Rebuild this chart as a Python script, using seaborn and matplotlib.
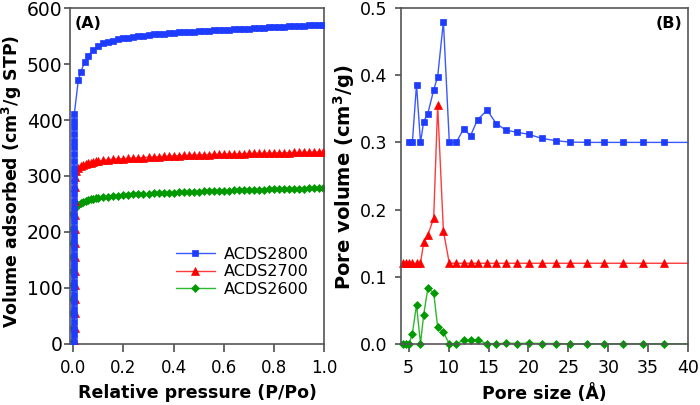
import numpy as np
import matplotlib
matplotlib.use("Agg")
import matplotlib.pyplot as plt
import seaborn as sns

# # # # # data # # # # #

LABELS = ["ACDS2800", "ACDS2700", "ACDS2600"]

# (A) N2 isotherms: relative pressure / volume adsorbed (cm3/g STP)
P_BLUE = [0.003, 0.003, 0.003, 0.003, 0.003, 0.003, 0.003, 0.003, 0.003, 0.003, 0.003, 0.003,
	0.003, 0.003, 0.003, 0.003, 0.003, 0.003, 0.003, 0.003, 0.003, 0.003, 0.003, 0.003,
	0.003, 0.003, 0.003, 0.003, 0.003, 0.003, 0.003, 0.003, 0.004, 0.004, 0.004,
	0.02, 0.03, 0.045, 0.06, 0.08,
	0.10, 0.12, 0.14, 0.16, 0.18, 0.20, 0.22, 0.24, 0.26, 0.28, 0.30, 0.32, 0.34, 0.36, 0.38,
	0.40, 0.42, 0.44, 0.46, 0.48, 0.50, 0.52, 0.54, 0.56, 0.58, 0.60, 0.62, 0.64, 0.66, 0.68,
	0.70, 0.72, 0.74, 0.76, 0.78, 0.80, 0.82, 0.84, 0.86, 0.88, 0.90, 0.92, 0.94, 0.96, 0.98, 0.995]
V_BLUE = [3, 15, 27, 39, 51, 63, 75, 87, 99, 111, 123, 135,
	147, 159, 171, 183, 195, 207, 219, 231, 243, 255, 267, 279,
	291, 303, 315, 327, 339, 351, 363, 375, 387, 399, 410,
	471, 486, 503, 515, 525,
	532, 537, 540, 542, 544, 546, 547, 548.5, 550, 551, 552, 553, 554, 554.5, 555.5,
	556, 556.5, 557, 557.5, 558, 558.5, 559, 559.5, 560, 560.5, 561, 561.5, 562, 562.5, 563,
	563.5, 564, 564.5, 565, 565.5, 566, 566.5, 567, 567.5, 568, 568.3, 568.7, 569, 569.5, 570, 570.5]

P_RED = [0.005, 0.005, 0.005, 0.005, 0.005, 0.005, 0.005, 0.005, 0.005, 0.005, 0.005, 0.005,
	0.006, 0.01, 0.02, 0.03, 0.04, 0.05, 0.06, 0.07, 0.08, 0.09,
	0.10, 0.12, 0.14, 0.16, 0.18, 0.20, 0.22, 0.24, 0.26, 0.28, 0.30, 0.32, 0.34, 0.36, 0.38,
	0.40, 0.42, 0.44, 0.46, 0.48, 0.50, 0.52, 0.54, 0.56, 0.58, 0.60, 0.62, 0.64, 0.66, 0.68,
	0.70, 0.72, 0.74, 0.76, 0.78, 0.80, 0.82, 0.84, 0.86, 0.88, 0.90, 0.92, 0.94, 0.96, 0.98, 0.995]
V_RED = [3, 28, 55, 80, 105, 130, 155, 180, 205, 230, 255, 280,
	298, 308, 315, 318, 320, 322, 323, 324, 325, 326,
	327, 328, 329, 330, 330.5, 331, 331.5, 332, 332.5, 333, 333.5, 334, 334.5, 335, 335.5,
	336, 336.3, 336.6, 337, 337.3, 337.6, 338, 338.3, 338.6, 339, 339.2, 339.4, 339.6, 339.8, 340,
	340.2, 340.4, 340.6, 340.8, 341, 341.2, 341.4, 341.6, 341.8, 342, 342.2, 342.4, 342.6, 342.8, 343, 343.5]

P_GREEN = [-0.004, -0.004, -0.004, -0.004, -0.004, -0.004, -0.004, -0.004, -0.004, -0.004,
	0.005, 0.01, 0.02, 0.03, 0.04, 0.05, 0.06, 0.07, 0.08, 0.09,
	0.10, 0.12, 0.14, 0.16, 0.18, 0.20, 0.22, 0.24, 0.26, 0.28, 0.30, 0.32, 0.34, 0.36, 0.38,
	0.40, 0.42, 0.44, 0.46, 0.48, 0.50, 0.52, 0.54, 0.56, 0.58, 0.60, 0.62, 0.64, 0.66, 0.68,
	0.70, 0.72, 0.74, 0.76, 0.78, 0.80, 0.82, 0.84, 0.86, 0.88, 0.90, 0.92, 0.94, 0.96, 0.98, 0.995]
V_GREEN = [3, 28, 55, 80, 105, 130, 155, 180, 205, 232,
	243, 246, 249, 252, 254, 256, 257, 258, 259, 260,
	261, 262, 263, 264, 265, 266, 266.5, 267, 267.5, 268, 268.5, 269, 269.3, 269.6, 270,
	270.3, 270.6, 271, 271.3, 271.6, 272, 272.3, 272.6, 273, 273.3, 273.6, 274, 274.2, 274.4, 274.6,
	274.8, 275, 275.3, 275.6, 275.9, 276.2, 276.5, 276.8, 277, 277.2, 277.4, 277.6, 277.8, 278, 278.2, 278.5]

# (B) pore size distributions: pore size (A) / pore volume (cm3/g)
# last point (40) only carries the line to the frame, no marker
D_BLUE = [5.05, 5.46, 5.98, 6.48, 6.88, 7.40, 8.13, 8.63, 9.35, 10.09, 10.96, 11.88, 12.75, 13.63,
	14.84, 15.96, 17.21, 18.63, 20.04, 21.67, 23.46, 25.21, 27.38, 29.5, 31.84, 34.34, 37.0, 40.0]
PV_BLUE = [0.30, 0.30, 0.386, 0.30, 0.331, 0.343, 0.378, 0.398, 0.48, 0.30, 0.30, 0.320, 0.310, 0.334,
	0.348, 0.328, 0.318, 0.315, 0.312, 0.306, 0.3025, 0.3005, 0.30, 0.30, 0.30, 0.30, 0.30, 0.30]

D_RED = [4.25, 4.67, 5.05, 5.46, 5.98, 6.48, 6.88, 7.40, 8.13, 8.63, 9.35, 10.09, 10.96, 11.88, 12.75,
	13.63, 14.84, 15.96, 17.21, 18.63, 20.04, 21.67, 23.46, 25.21, 27.38, 29.5, 31.84, 34.34, 37.0, 40.0]
PV_RED = [0.12, 0.12, 0.12, 0.12, 0.12, 0.12, 0.151, 0.162, 0.187, 0.355, 0.168, 0.12, 0.12, 0.12, 0.12,
	0.12, 0.12, 0.12, 0.12, 0.12, 0.12, 0.12, 0.12, 0.12, 0.12, 0.12, 0.12, 0.12, 0.12, 0.12]

D_GREEN = D_RED
PV_GREEN = [0.0, 0.0, 0.0, 0.015, 0.058, 0.0, 0.0436, 0.0827, 0.076, 0.025, 0.017, 0.0, 0.0, 0.0054, 0.0054,
	0.006, 0.0, 0.0, 0.001, 0.0005, 0.001, 0.0005, 0.0005, 0.0, 0.0, 0.0, 0.0, 0.0, 0.0, 0.0]

# marker colour, line colour, marker, marker size, drawing order in (A)
STYLES = [("#1e3cff", "#3a58ff", "s", 4.6, 4),
	("#ff0000", "#ff3a3a", "^", 5.4, 3),
	("#009a00", "#2db82d", "D", 4.0, 2)]

# # # # # figure # # # # #

sns.set_theme(style="ticks")
plt.rcParams["font.family"] = ["DejaVu Sans"]
plt.rcParams["text.color"] = "black"
plt.rcParams["axes.labelcolor"] = "black"
plt.rcParams["axes.edgecolor"] = "#555555"
plt.rcParams["axes.linewidth"] = 1.2
plt.rcParams["xtick.color"] = "#555555"
plt.rcParams["ytick.color"] = "#555555"
plt.rcParams["xtick.labelcolor"] = "black"
plt.rcParams["ytick.labelcolor"] = "black"
plt.rcParams["xtick.major.size"] = 5.5
plt.rcParams["ytick.major.size"] = 4

fig = plt.figure(figsize=(7, 4.05), dpi=100)
ax_a = fig.add_axes([0.100, 0.151, 0.363, 0.829])
ax_b = fig.add_axes([0.573, 0.151, 0.410, 0.829])

# # # panel A # # #

iso = [(P_BLUE, V_BLUE), (P_RED, V_RED), (P_GREEN, V_GREEN)]
for (px, vy), (mc, lc, mk, ms, zo), lab in zip(iso, STYLES, LABELS):
	sns.lineplot(x=px, y=vy, ax=ax_a, estimator=None, sort=False, color=lc, linewidth=1,
		marker=mk, markersize=ms, markerfacecolor=mc, markeredgecolor=mc, markeredgewidth=0.5,
		label=lab, zorder=zo)

ax_a.set_xlim(-0.013, 1.0)
ax_a.set_ylim(0, 600)
ax_a.set_xticks([0.0, 0.2, 0.4, 0.6, 0.8, 1.0])
ax_a.set_xticklabels(["0.0", "0.2", "0.4", "0.6", "0.8", "1.0"])
ax_a.set_yticks([0, 100, 200, 300, 400, 500, 600])
ax_a.tick_params(axis="x", labelsize=12, pad=5.5)
ax_a.tick_params(axis="y", labelsize=13.5, pad=1.5)
ax_a.set_xlabel("Relative pressure (P/Po)", fontsize=12.5, fontweight="bold", labelpad=5)
ax_a.set_ylabel(r"Volume adsorbed (cm$^{\mathbf{3}}$/g STP)", fontsize=12.5, fontweight="bold")
ax_a.yaxis.set_label_coords(-0.18, 0.484)
ax_a.text(0.02, 0.975, "(A)", transform=ax_a.transAxes, fontsize=11.5, fontweight="bold",
	ha="left", va="top")
ax_a.legend(frameon=False, loc="center", bbox_to_anchor=(0.68, 0.215), fontsize=11.5,
	handlelength=2.4, labelspacing=0.15, handletextpad=0.6, borderaxespad=0)

# # # panel B # # #

psd = [(D_BLUE, PV_BLUE), (D_RED, PV_RED), (D_GREEN, PV_GREEN)]
for (dx, vy), (mc, lc, mk, ms, zo) in zip(psd, STYLES):
	sns.lineplot(x=dx, y=vy, ax=ax_b, estimator=None, sort=False, color=lc, linewidth=1,
		marker=mk, markersize=ms + 0.3, markerfacecolor=mc, markeredgecolor=mc, markeredgewidth=0.5,
		markevery=list(range(len(dx) - 1)), clip_on=False)

ax_b.set_xlim(4.05, 40)
ax_b.set_ylim(0, 0.5)
ax_b.set_xticks([5, 10, 15, 20, 25, 30, 35, 40])
ax_b.set_yticks([0.0, 0.1, 0.2, 0.3, 0.4, 0.5])
ax_b.set_yticklabels(["0.0", "0.1", "0.2", "0.3", "0.4", "0.5"])
ax_b.tick_params(axis="x", labelsize=12.5, pad=5.5)
ax_b.tick_params(axis="y", labelsize=12.5, pad=6)
ax_b.set_xlabel("Pore size (Å)", fontsize=12.5, fontweight="bold", labelpad=5)
ax_b.set_ylabel(r"Pore volume (cm$^{\mathbf{3}}$/g)", fontsize=14, fontweight="bold")
ax_b.yaxis.set_label_coords(-0.153, 0.497)
ax_b.text(0.98, 0.975, "(B)", transform=ax_b.transAxes, fontsize=11.5, fontweight="bold",
	ha="right", va="top")

fig.savefig("out.png", dpi=100)
